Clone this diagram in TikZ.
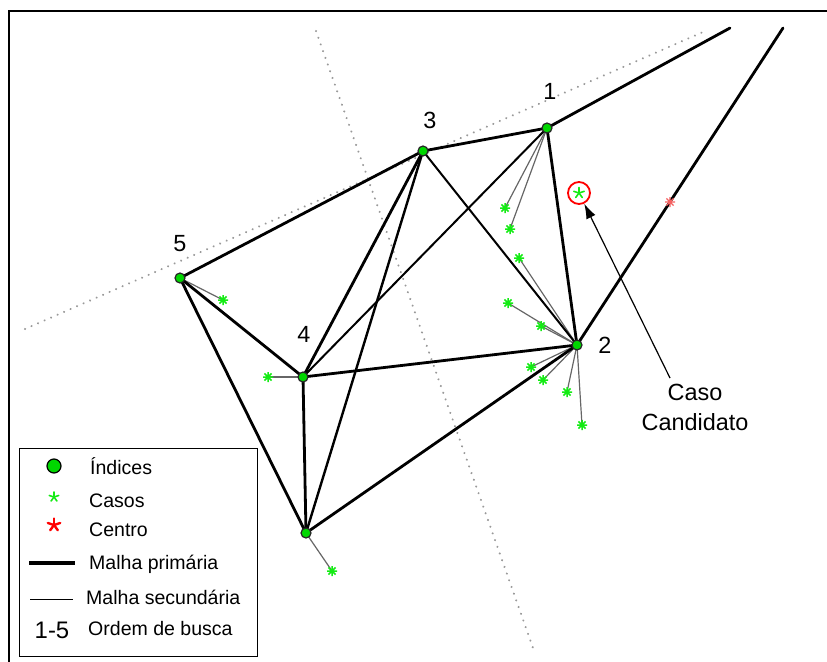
\documentclass[tikz,border=0pt]{standalone}
\usepackage{fontspec}
\setmainfont{Liberation Sans}
\usetikzlibrary{arrows.meta,backgrounds}
\definecolor{casegreen}{RGB}{20,235,20}
\definecolor{nodegreen}{RGB}{0,215,0}
\definecolor{centred}{RGB}{240,30,30}
\tikzset{
  % eight-armed marker used for the plotted cases
  caseast/.pic={\draw[line width=1.5bp, casegreen]
      (-5,0)--(5,0) (0,-5)--(0,5) (-3.6,-3.6)--(3.6,3.6) (-3.6,3.6)--(3.6,-3.6);},
  centreast/.pic={\draw[line width=1.4bp, centred!70]
      (-5,0)--(5,0) (0,-5)--(0,5) (-3.6,-3.6)--(3.6,3.6) (-3.6,3.6)--(3.6,-3.6);},
  % five-armed asterisk as set in the legend (page angles)
  pics/textast/.style args={#1/#2/#3}{code={
      \foreach \a in {90,18,162,234,306}
        \draw[line width=#3, line cap=round, #1] (0,0) -- ++(\a:#2);}},
}
\begin{document}
\begin{tikzpicture}[x=1bp,y=-1bp,
  primary/.style={line width=2.8bp, black, line cap=round},
  cross/.style={line width=2.0bp, black, line cap=round},
  link/.style={line width=1.2bp, black!60},
  guide/.style={line width=2.2bp, black!40, line cap=round, dash pattern=on 0.1bp off 7bp},
  idx/.style={circle, fill=nodegreen, draw=black!85, line width=1.2bp, inner sep=0pt, minimum size=10bp},
  num/.style={font=\fontsize{23.5}{28}\selectfont, inner sep=0pt},
  legtext/.style={font=\fontsize{19.6}{23}\selectfont, anchor=base west, inner sep=0pt},
]
\useasboundingbox (0,0) rectangle (827,662);

% frame of the plot area
\draw[line width=1.4bp] (9,662) -- (9,11) -- (827,11);

% search index nodes
\node[idx] (n1) at (547,128) {};
\node[idx] (n2) at (577,345) {};
\node[idx] (n3) at (423,151) {};
\node[idx] (n4) at (303,377) {};
\node[idx] (n5) at (180,278) {};
\node[idx] (n6) at (306,533) {};

\node[num] (l1) at (550,91) {1};
\node[num] (l2) at (605,345) {2};
\node[num] (l3) at (430,120) {3};
\node[num] (l4) at (304,334) {4};
\node[num] (l5) at (180,244) {5};

% free ends
\coordinate (g1) at (25,329);
\coordinate (g2) at (703,32);
\coordinate (g3) at (316,31);
\coordinate (g4) at (533,648);
\coordinate (e1) at (730,28);
\coordinate (e2) at (783,28);

% cases
\coordinate (c1) at (505,208);
\coordinate (c2) at (510,229);
\coordinate (c3) at (519,258);
\coordinate (c4) at (508,303);
\coordinate (c5) at (541,326);
\coordinate (c6) at (531,367);
\coordinate (c7) at (543,380);
\coordinate (c8) at (567,392);
\coordinate (c9) at (582,425);
\coordinate (c10) at (223,300);
\coordinate (c11) at (268,377);
\coordinate (c12) at (332,571);
\coordinate (ctr) at (670,202);

\begin{scope}[on background layer]
  % dotted reference lines
  \draw[guide] (g1) -- (g2);
  \draw[guide] (g3) -- (g4);
  % links from indices to cases
  \draw[link] (n1.center) -- (c1);
  \draw[link] (n1.center) -- (c2);
  \foreach \c in {c3,c4,c5,c6,c7,c8,c9} \draw[link] (n2.center) -- (\c);
  \draw[link] (n5.center) -- (c10);
  \draw[link] (n4.center) -- (c11);
  \draw[link] (n6.center) -- (c12);
  % mesh
  \draw[cross] (n3.center) -- (n2.center);
  \draw[cross] (n1.center) -- (n4.center);
  \draw[line width=2.4bp, line cap=round] (n3.center) -- (n6.center);
  \draw[primary] (n5.center) -- (n3.center);
  \draw[primary] (n3.center) -- (n1.center);
  \draw[primary] (n1.center) -- (n2.center);
  \draw[primary] (n1.center) -- (e1);
  \draw[primary] (n2.center) -- (e2);
  \draw[primary] (n5.center) -- (n4.center);
  \draw[primary] (n5.center) -- (n6.center);
  \draw[primary] (n4.center) -- (n2.center);
  \draw[primary] (n6.center) -- (n2.center);
  \draw[primary] (n4.center) -- (n6.center);
  \draw[primary] (n4.center) -- (n3.center);
\end{scope}

\foreach \c in {c1,c2,c3,c4,c5,c6,c7,c8,c9,c10,c11,c12} \pic at (\c) {caseast};
\pic at (ctr) {centreast};

% candidate case
\node[circle, draw=red, line width=1.8bp, minimum size=22bp, inner sep=0pt] (cc) at (579,193) {};
\pic at (cc) {textast={casegreen/5.5bp/1.6bp}};
\node[num, align=center, font=\fontsize{23.5}{30}\selectfont] (cand) at (695,407) {Caso\\Candidato};
\coordinate (tail) at (670,378);
\draw[line width=1.2bp, -{Latex[length=15bp,width=10bp]}] (tail) -- (cc);

% legend
\draw[line width=1bp, fill=white] (19,448) rectangle (257,656);
\node[circle, fill=nodegreen, draw=black, line width=1.2bp, inner sep=0pt, minimum size=14bp] (k1) at (54,466) {};
\pic at (54,497) {textast={casegreen/5bp/1.6bp}};
\pic at (54,525) {textast={red/6.5bp/2.4bp}};
\coordinate (k4a) at (29,563);
\coordinate (k4b) at (75,563);
\draw[line width=4bp] (k4a) -- (k4b);
\coordinate (k5a) at (30,599);
\coordinate (k5b) at (73,599);
\draw[line width=1bp] (k5a) -- (k5b);
\node[font=\fontsize{24}{28}\selectfont, anchor=base, inner sep=0pt] (k6) at (52,638) {1-5};

\node[legtext] (t1) at (90,474) {Índices};
\node[legtext] (t2) at (89,507) {Casos};
\node[legtext] (t3) at (89,536) {Centro};
\node[legtext] (t4) at (89,569) {Malha primária};
\node[legtext] (t5) at (86,604) {Malha secundária};
\node[legtext] (t6) at (88,635) {Ordem de busca};
\end{tikzpicture}
\end{document}
